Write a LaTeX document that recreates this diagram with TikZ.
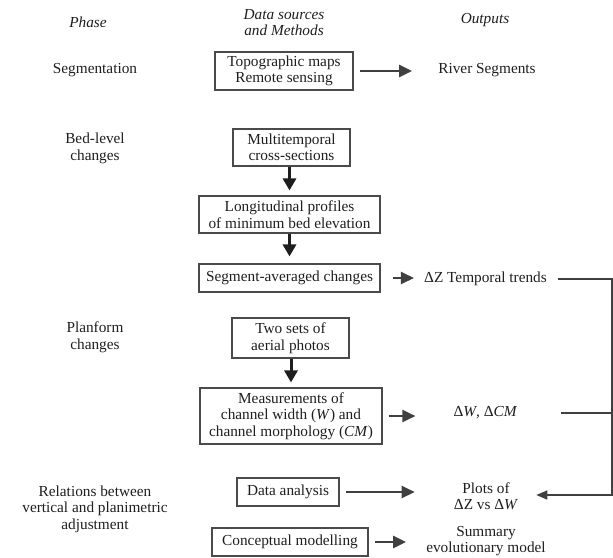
\documentclass[tikz,border=0pt]{standalone}
\usepackage{fontspec}
\setmainfont{Liberation Serif}
\usetikzlibrary{arrows.meta}
\definecolor{ink}{HTML}{1E1E1E}
\definecolor{agray}{HTML}{404040}
\definecolor{bgray}{HTML}{4A4A4A}
\tikzset{
  txt/.style={font=\fontsize{15.3}{16.5}\selectfont, text=ink, align=center, inner sep=0pt},
  hdr/.style={txt, font=\fontsize{15.3}{16.5}\selectfont\itshape},
  box/.style={txt, draw=bgray, line width=1.1pt},
  harrow/.style={draw=agray, line width=2.4pt, -{Triangle[length=13pt,width=12pt]}},
  varrow/.style={draw=ink, line width=3pt, -{Triangle[length=12pt,width=13pt]}},
  rline/.style={draw=agray, line width=1.5pt},
}
\begin{document}
\begin{tikzpicture}[x=1pt,y=-1pt]
\useasboundingbox (0,0) rectangle (613,557);
% headers
\node[hdr] (hphase) at (88,22) {Phase};
\node[hdr] (hdata) at (284,22.5) {Data sources\\and Methods};
\node[hdr] (hout) at (485,20) {Outputs};
% phases
\node[txt] (pseg) at (95,70) {Segmentation};
\node[txt] (pbed) at (95,148.5) {Bed-level\\changes};
\node[txt] (pplan) at (95,337.5) {Planform\\changes};
\node[txt] (prel) at (95,509) {Relations between\\vertical and planimetric\\adjustment};
% boxes
\node[box, minimum width=138pt, minimum height=38pt] (b1) at (284,71) {Topographic maps\\Remote sensing};
\node[box, minimum width=117pt, minimum height=37pt] (b2) at (291.5,147.5) {Multitemporal\\cross-sections};
\node[box, minimum width=181pt, minimum height=37pt] (b3) at (289.5,214.5) {Longitudinal profiles\\of minimum bed elevation};
\node[box, minimum width=181pt, minimum height=28pt] (b4) at (289.5,278) {Segment-averaged changes};
\node[box, minimum width=117pt, minimum height=40pt] (b5) at (290.5,338) {Two sets of\\aerial photos};
\node[box, minimum width=182pt, minimum height=56pt] (b6) at (291,416) {Measurements of\\channel width (\textit{W}) and\\channel morphology (\textit{CM})};
\node[box, minimum width=102pt, minimum height=28pt] (b7) at (288,492) {Data analysis};
\node[box, minimum width=156pt, minimum height=28pt] (b8) at (290,542) {Conceptual modelling};
% outputs
\node[txt] (oriver) at (487,70) {River Segments};
\node[txt] (odz) at (485.5,279) {ΔZ Temporal trends};
\node[txt] (odw) at (485.5,413) {Δ\textit{W}, Δ\textit{CM}};
\node[txt] (oplots) at (486,496) {Plots of\\ΔZ vs Δ\textit{W}};
\node[txt] (osum) at (486,541) {Summary\\evolutionary model};
\coordinate (rail) at (612,0);
% arrows
\draw[harrow, shorten <=6pt, shorten >=26pt] (b1.east) -- (b1.east -| oriver.west);
\draw[varrow, shorten >=5pt] (b2.south -| b3.north) -- (b3.north);
\draw[varrow, shorten >=7pt] (b3.south) -- (b3.south |- b4.north);
\draw[harrow, line width=2pt, shorten <=12pt, shorten >=10pt] (b4.east) -- (b4.east -| odz.west);
\draw[varrow, shorten >=5pt] (b5.south -| b6.north) -- (b6.north);
\draw[harrow, shorten <=6pt, shorten >=38pt] (b6.east) -- (b6.east -| odw.west);
\draw[harrow, shorten <=6pt, shorten >=39pt] (b7.east) -- (b7.east -| oplots.west);
\draw[harrow, shorten <=6pt, shorten >=20pt] (b8.east) -- (b8.east -| osum.west);
% return rail
\draw[rline, shorten <=11pt, shorten >=18pt, -{Triangle[length=11pt,width=9pt]}] (odz.east) -- (odz.east -| rail) |- ([yshift=1pt]oplots.east);
\draw[rline, shorten <=43pt] (odw.east) -- (odw.east -| rail);
\end{tikzpicture}
\end{document}
